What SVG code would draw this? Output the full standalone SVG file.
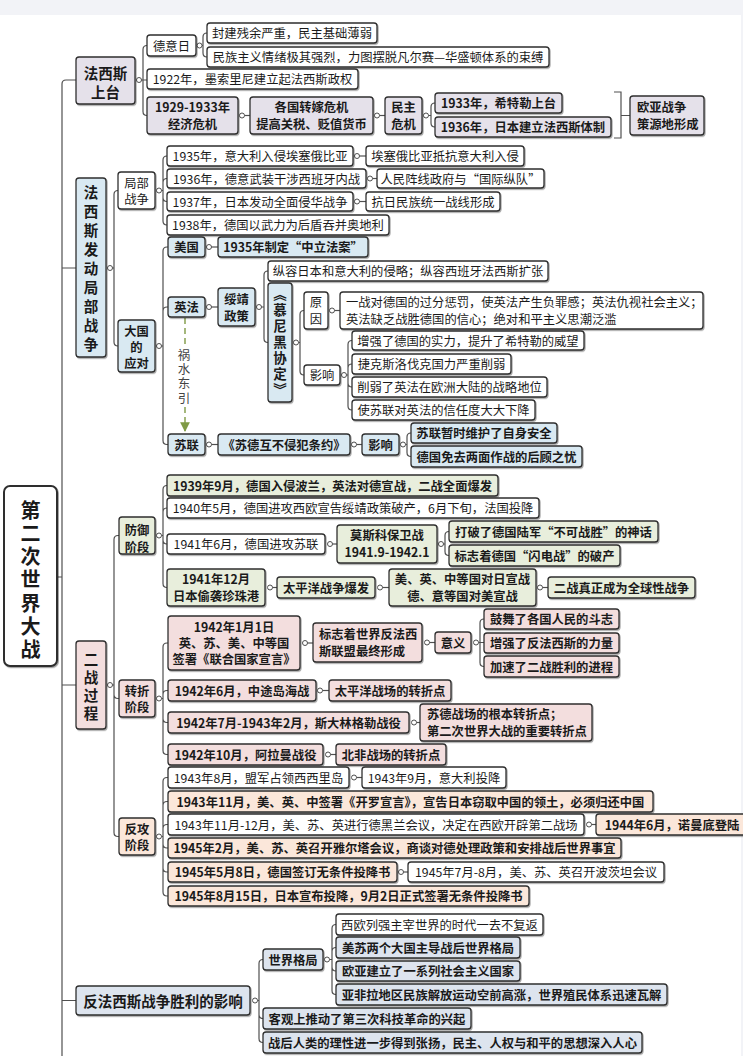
<svg xmlns="http://www.w3.org/2000/svg" width="743" height="1056" viewBox="0 0 743 1056">
<defs>
<filter id="sh" x="-5%" y="-10%" width="115%" height="140%"><feDropShadow dx="1" dy="1.2" stdDeviation="0.7" flood-color="#000" flood-opacity="0.35"/></filter>
<marker id="ah" viewBox="0 0 10 10" refX="9" refY="5" markerWidth="7" markerHeight="7" orient="auto"><path d="M0,0 L10,5 L0,10 z" fill="#7f9a45"/></marker>
<style>
rect.n{stroke:#2e2e2e;stroke-width:1.3;filter:url(#sh)}
.w{fill:#ffffff}.lav{fill:#e5e1ea}.blu{fill:#d9e9f2}.grn{fill:#e8eedc}.pnk{fill:#f3dede}.pch{fill:#fbe7da}.gry{fill:#dde4ee}
text{font-family:"Noto Sans CJK SC","Noto Sans",sans-serif;font-size:12.3px;fill:#1a1a1a;dominant-baseline:central;text-anchor:middle}
.b{font-weight:bold}
.l{text-anchor:start}
.h{font-size:14.5px;font-weight:bold}
.v{writing-mode:vertical-rl}
.c path{fill:none;stroke:#505050;stroke-width:1.2}
.c circle{fill:#fff;stroke:#505050;stroke-width:1}
</style>
</defs>
<rect x="0" y="0" width="743" height="15" fill="#f2f3f7"/>
<rect x="741" y="15" width="2" height="1041" fill="#f2f3f7"/>

<g class="c" id="connectors">
<path d="M57 577 H62 M62 1056 V84 Q62 80 66 80 H76 M62 268 H76 M62 685 H76 M62 1000.5 H76"/>
<circle cx="139" cy="80" r="2.5"/>
<path d="M141.5 80 H143 M143 80 V49.5 Q143 45.5 147 45.5 M143 80 H147 M143 80 V111.5 Q143 115.5 147 115.5"/>
<circle cx="199.5" cy="45.5" r="2.5"/>
<path d="M202 45.5 H203 M203 45.5 V37 Q203 33 207 33 M203 45.5 V53 Q203 57 207 57"/>
<circle cx="242" cy="115.5" r="2.5"/><path d="M244.5 115.5 H250"/>
<circle cx="377" cy="115.5" r="2.5"/><path d="M379.5 115.5 H385"/>
<circle cx="426" cy="115.5" r="2.5"/>
<path d="M428.5 115.5 H431 M431 115.5 V107 Q431 103 435 103 M431 115.5 V123 Q431 127 435 127"/>
<path d="M614 92 H621 V138 H614 M621 115.5 H630"/>
<circle cx="110" cy="268" r="2.5"/>
<path d="M112.5 268 H114 M114 268 V194.5 Q114 190.5 118 190.5 M114 268 V342 Q114 346 118 346"/>
<circle cx="159" cy="190.5" r="2.5"/>
<path d="M161.5 190.5 H163 M163 190.5 V160 Q163 156 167 156 M163 190.5 V182.5 Q163 178.5 167 178.5 M163 190.5 V197.5 Q163 201.5 167 201.5 M163 190.5 V221 Q163 225 167 225"/>
<circle cx="357" cy="156" r="2.5"/><path d="M359.5 156 H366"/>
<circle cx="370" cy="178.5" r="2.5"/><path d="M372.5 178.5 H377"/>
<circle cx="357" cy="201.5" r="2.5"/><path d="M359.5 201.5 H366"/>
<circle cx="159" cy="346" r="2.5"/>
<path d="M161.5 346 H163 M163 346 V251 Q163 247 167 247 H168 M163 346 V311 Q163 307 167 307 H168 M163 346 V440.5 Q163 444.5 167 444.5 H168"/>
<circle cx="209" cy="247" r="2.5"/><path d="M211.5 247 H218"/>
<circle cx="209" cy="307" r="2.5"/><path d="M211.5 307 H218"/>
<circle cx="259" cy="307" r="2.5"/>
<path d="M261.5 307 H264 M264 307 V275 Q264 271 268 271 M264 307 V338.5 Q264 342.5 268 342.5"/>
<circle cx="296" cy="342.5" r="2.5"/>
<path d="M298.5 342.5 H300 M300 342.5 V314.5 Q300 310.5 304 310.5 M300 342.5 V371 Q300 375 304 375"/>
<circle cx="332" cy="310.5" r="2.5"/><path d="M334.5 310.5 H340"/>
<circle cx="344" cy="375" r="2.5"/>
<path d="M346.5 375 H348 M348 375 V344.5 Q348 340.5 352 340.5 M348 375 V368 Q348 364 352 364 M348 375 V383 Q348 387 352 387 M348 375 V406 Q348 410 352 410"/>
<circle cx="209" cy="444.5" r="2.5"/><path d="M211.5 444.5 H218"/>
<circle cx="354" cy="444.5" r="2.5"/><path d="M356.5 444.5 H362"/>
<circle cx="403" cy="444.5" r="2.5"/>
<path d="M405.5 444.5 H407 M407 444.5 V437 Q407 433 411 433 M407 444.5 V452.5 Q407 456.5 411 456.5"/>
<path d="M185 318 V347 M185 407 V431" style="stroke:#7f9a45;stroke-width:1.4;stroke-dasharray:6 4" marker-end="url(#ah)"/>
<circle cx="110" cy="685" r="2.5"/>
<path d="M112.5 685 H114 M114 685 V539.5 Q114 535.5 118 535.5 H119 M114 685 V694.5 Q114 698.5 118 698.5 H119 M114 685 V832.5 Q114 836.5 118 836.5 H119"/>
<circle cx="159" cy="535.5" r="2.5"/>
<path d="M161.5 535.5 H163 M163 535.5 V489.5 Q163 485.5 167 485.5 M163 535.5 V512 Q163 508 167 508 M163 535.5 V540 Q163 544 167 544 M163 535.5 V583.5 Q163 587.5 167 587.5"/>
<circle cx="330" cy="544" r="2.5"/><path d="M332.5 544 H337"/>
<circle cx="441" cy="544" r="2.5"/>
<path d="M443.5 544 H445 M445 544 V535.5 Q445 531.5 449 531.5 M445 544 V551.5 Q445 555.5 449 555.5"/>
<circle cx="270" cy="587.5" r="2.5"/><path d="M272.5 587.5 H277"/>
<circle cx="380" cy="587.5" r="2.5"/><path d="M382.5 587.5 H389"/>
<circle cx="540" cy="587.5" r="2.5"/><path d="M542.5 587.5 H548"/>
<circle cx="159" cy="698.5" r="2.5"/>
<path d="M161.5 698.5 H163 M163 698.5 V647 Q163 643 167 643 H168 M163 698.5 V694.5 Q163 690.5 167 690.5 H168 M163 698.5 V718.5 Q163 722.5 167 722.5 H168 M163 698.5 V750.5 Q163 754.5 167 754.5 H168"/>
<circle cx="305" cy="643" r="2.5"/><path d="M307.5 643 H313"/>
<circle cx="427" cy="642.5" r="2.5"/><path d="M429.5 642.5 H435"/>
<circle cx="476" cy="642.5" r="2.5"/>
<path d="M478.5 642.5 H480 M480 642.5 V623 Q480 619 484 619 M480 642.5 H484 M480 642.5 V662.5 Q480 666.5 484 666.5"/>
<circle cx="320" cy="690.5" r="2.5"/><path d="M322.5 690.5 H329"/>
<circle cx="414" cy="722.5" r="2.5"/><path d="M416.5 722.5 H420"/>
<circle cx="328" cy="754.5" r="2.5"/><path d="M330.5 754.5 H336"/>
<circle cx="159" cy="836.5" r="2.5"/>
<path d="M161.5 836.5 H163 M163 836.5 V781.5 Q163 777.5 167 777.5 H168 M163 836.5 V805.5 Q163 801.5 167 801.5 H168 M163 836.5 V828.5 Q163 824.5 167 824.5 H168 M163 836.5 V844 Q163 848 167 848 H168 M163 836.5 V868 Q163 872 167 872 H168 M163 836.5 V892 Q163 896 167 896 H168"/>
<circle cx="354" cy="777.5" r="2.5"/><path d="M356.5 777.5 H362"/>
<circle cx="589" cy="824.5" r="2.5"/><path d="M591.5 824.5 H596"/>
<circle cx="401" cy="872" r="2.5"/><path d="M403.5 872 H408"/>
<circle cx="255" cy="1000.5" r="2.5"/>
<path d="M257.5 1000.5 H259 M259 1000.5 V963.5 Q259 959.5 263 959.5 M259 1000.5 V1014.5 Q259 1018.5 263 1018.5 M259 1000.5 V1038.5 Q259 1042.5 263 1042.5"/>
<circle cx="327" cy="959.5" r="2.5"/>
<path d="M329.5 959.5 H332 M332 959.5 V928.5 Q332 924.5 336 924.5 M332 959.5 V951.5 Q332 947.5 336 947.5 M332 959.5 V967 Q332 971 336 971 M332 959.5 V990.5 Q332 994.5 336 994.5"/>
</g>

<g id="n-root"><rect class="n w" x="4" y="486" width="53" height="180" rx="6" style="stroke-width:2"/>
<text class="v" x="30.5" y="581.5" style="font-size:20px;font-weight:bold;letter-spacing:3.3px">第二次世界大战</text></g>

<g id="n-fascism-rise"><rect class="n lav" x="76" y="57" width="59" height="47" rx="3"/><text class="h"><tspan x="105.5" y="72">法西斯</tspan><tspan x="105.5" y="91">上台</tspan></text></g>
<g id="n-gij"><rect class="n w" x="147" y="35" width="49" height="21" rx="3"/><text x="171.5" y="45.5">德意日</text></g>
<g id="n-feudal"><rect class="n w" x="207" y="23" width="170" height="20" rx="3"/><text x="292" y="33">封建残余严重，民主基础薄弱</text></g>
<g id="n-nationalism"><rect class="n w" x="207" y="47" width="342" height="20" rx="3"/><text x="378" y="57">民族主义情绪极其强烈，力图摆脱凡尔赛—华盛顿体系的束缚</text></g>
<g id="n-1922"><rect class="n w" x="147" y="69" width="211" height="20" rx="3"/><text x="252.5" y="79">1922年，墨索里尼建立起法西斯政权</text></g>
<g id="n-crisis"><rect class="n lav" x="147" y="97" width="91" height="37" rx="3"/><text class="b"><tspan x="192.5" y="107">1929-1933年</tspan><tspan x="192.5" y="124">经济危机</tspan></text></g>
<g id="n-transfer"><rect class="n lav" x="250" y="97" width="123" height="37" rx="3"/><text class="b"><tspan x="311.5" y="107">各国转嫁危机</tspan><tspan x="311.5" y="124">提高关税、贬值货币</tspan></text></g>
<g id="n-democracy"><rect class="n lav" x="385" y="97" width="37" height="37" rx="3"/><text class="b"><tspan x="403.5" y="107">民主</tspan><tspan x="403.5" y="124">危机</tspan></text></g>
<g id="n-1933"><rect class="n lav" x="435" y="93" width="127" height="20" rx="3"/><text class="b" x="498.5" y="103">1933年，希特勒上台</text></g>
<g id="n-1936j"><rect class="n lav" x="435" y="117" width="176" height="20" rx="3"/><text class="b" x="523" y="127">1936年，日本建立法西斯体制</text></g>
<g id="n-source"><rect class="n lav" x="630" y="96" width="74" height="39" rx="3"/><text class="b l"><tspan x="637" y="107">欧亚战争</tspan><tspan x="637" y="124">策源地形成</tspan></text></g>

<g id="n-local-war"><rect class="n blu" x="76" y="178" width="30" height="179" rx="3"/><text class="h v" x="91" y="270.7" style="letter-spacing:4.4px">法西斯发动局部战争</text></g>
<g id="n-partial"><rect class="n w" x="118" y="172" width="37" height="37" rx="3"/><text><tspan x="136.5" y="183">局部</tspan><tspan x="136.5" y="199">战争</tspan></text></g>
<g id="n-1935"><rect class="n w" x="167" y="146" width="186" height="20" rx="3"/><text x="260" y="156">1935年，意大利入侵埃塞俄比亚</text></g>
<g id="n-ethiopia"><rect class="n w" x="366" y="146" width="158" height="20" rx="3"/><text x="445" y="156">埃塞俄比亚抵抗意大利入侵</text></g>
<g id="n-1936"><rect class="n w" x="167" y="169" width="199" height="19" rx="3"/><text x="266.5" y="178.5">1936年，德意武装干涉西班牙内战</text></g>
<g id="n-brigade"><rect class="n w" x="377" y="169" width="167" height="19" rx="3"/><text x="460.5" y="178.5">人民阵线政府与“国际纵队”</text></g>
<g id="n-1937"><rect class="n w" x="167" y="192" width="186" height="19" rx="3"/><text x="260" y="201.5">1937年，日本发动全面侵华战争</text></g>
<g id="n-front"><rect class="n w" x="366" y="192" width="134" height="19" rx="3"/><text x="433" y="201.5">抗日民族统一战线形成</text></g>
<g id="n-1938"><rect class="n w" x="167" y="215" width="222" height="20" rx="3"/><text x="278" y="225">1938年，德国以武力为后盾吞并奥地利</text></g>
<g id="n-powers"><rect class="n blu" x="118" y="320" width="37" height="52" rx="3"/><text class="b"><tspan x="136.5" y="331">大国</tspan><tspan x="136.5" y="347">的</tspan><tspan x="136.5" y="363">应对</tspan></text></g>
<g id="n-usa"><rect class="n blu" x="168" y="237" width="37" height="20" rx="3"/><text class="b" x="186.5" y="247">美国</text></g>
<g id="n-neutral"><rect class="n blu" x="218" y="237" width="150" height="20" rx="3"/><text class="b" x="293" y="247">1935年制定“中立法案”</text></g>
<g id="n-ukfr"><rect class="n blu" x="168" y="297" width="37" height="20" rx="3"/><text class="b" x="186.5" y="307">英法</text></g>
<g id="n-appease"><rect class="n blu" x="218" y="288" width="37" height="38" rx="3"/><text class="b"><tspan x="236.5" y="299">绥靖</tspan><tspan x="236.5" y="316">政策</tspan></text></g>
<g id="n-indulge"><rect class="n w" x="268" y="261" width="280" height="20" rx="3"/><text x="408" y="271">纵容日本和意大利的侵略；纵容西班牙法西斯扩张</text></g>
<g id="n-munich"><rect class="n blu" x="268" y="283" width="24" height="119" rx="3"/><text class="b v" x="280" y="343" style="font-size:13.5px;letter-spacing:2.5px">《慕尼黑协定》</text></g>
<g id="n-reason"><rect class="n w" x="304" y="292" width="24" height="37" rx="3"/><text><tspan x="316" y="302">原</tspan><tspan x="316" y="319">因</tspan></text></g>
<g id="n-reason-text"><rect class="n w" x="340" y="292" width="363" height="37" rx="3"/><text class="l"><tspan x="346" y="302">一战对德国的过分惩罚，使英法产生负罪感；英法仇视社会主义；</tspan><tspan x="346" y="319">英法缺乏战胜德国的信心；绝对和平主义思潮泛滥</tspan></text></g>
<g id="n-effect1"><rect class="n w" x="304" y="365" width="36" height="20" rx="3"/><text x="322" y="375">影响</text></g>
<g id="n-e1"><rect class="n w" x="352" y="331" width="232" height="19" rx="3"/><text x="468" y="340.5">增强了德国的实力，提升了希特勒的威望</text></g>
<g id="n-e2"><rect class="n w" x="352" y="354" width="159" height="20" rx="3"/><text x="431.5" y="364">捷克斯洛伐克国力严重削弱</text></g>
<g id="n-e3"><rect class="n w" x="352" y="377" width="195" height="20" rx="3"/><text x="449.5" y="387">削弱了英法在欧洲大陆的战略地位</text></g>
<g id="n-e4"><rect class="n w" x="352" y="400" width="183" height="20" rx="3"/><text x="443.5" y="410">使苏联对英法的信任度大大下降</text></g>
<g id="n-eastward"><text class="v" x="184" y="377.4" style="fill:#444;font-size:12.5px;letter-spacing:1.8px">祸水东引</text></g>
<g id="n-ussr"><rect class="n blu" x="168" y="434" width="37" height="21" rx="3"/><text class="b" x="186.5" y="444.5">苏联</text></g>
<g id="n-pact"><rect class="n blu" x="218" y="434" width="132" height="21" rx="3"/><text class="b" x="284" y="444.5">《苏德互不侵犯条约》</text></g>
<g id="n-effect2"><rect class="n blu" x="362" y="434" width="37" height="21" rx="3"/><text class="b" x="380.5" y="444.5">影响</text></g>
<g id="n-safe"><rect class="n blu" x="411" y="423" width="146" height="20" rx="3"/><text class="b" x="484" y="433">苏联暂时维护了自身安全</text></g>
<g id="n-twofront"><rect class="n blu" x="411" y="446" width="171" height="21" rx="3"/><text class="b" x="496.5" y="456.5">德国免去两面作战的后顾之忧</text></g>

<g id="n-process"><rect class="n pnk" x="76" y="641" width="30" height="88" rx="3"/><text class="h v" x="91" y="688.7" style="letter-spacing:3.5px">二战过程</text></g>
<g id="n-defense"><rect class="n grn" x="119" y="517" width="36" height="37" rx="3"/><text class="b"><tspan x="137" y="530">防御</tspan><tspan x="137" y="547">阶段</tspan></text></g>
<g id="n-1939"><rect class="n grn" x="167" y="475" width="331" height="21" rx="3"/><text class="b" x="332.5" y="485.5">1939年9月，德国入侵波兰，英法对德宣战，二战全面爆发</text></g>
<g id="n-1940"><rect class="n w" x="167" y="498" width="372" height="20" rx="3"/><text x="353" y="508">1940年5月，德国进攻西欧宣告绥靖政策破产，6月下旬，法国投降</text></g>
<g id="n-1941-6"><rect class="n w" x="167" y="534" width="158" height="20" rx="3"/><text x="246" y="544">1941年6月，德国进攻苏联</text></g>
<g id="n-moscow"><rect class="n grn" x="337" y="525" width="100" height="38" rx="3"/><text class="b"><tspan x="387" y="535">莫斯科保卫战</tspan><tspan x="387" y="552">1941.9-1942.1</tspan></text></g>
<g id="n-myth"><rect class="n grn" x="449" y="521" width="209" height="21" rx="3"/><text class="b" x="553.5" y="531.5">打破了德国陆军“不可战胜”的神话</text></g>
<g id="n-blitz"><rect class="n grn" x="449" y="545" width="171" height="21" rx="3"/><text class="b" x="534.5" y="555.5">标志着德国“闪电战”的破产</text></g>
<g id="n-pearl"><rect class="n grn" x="167" y="569" width="98" height="37" rx="3"/><text class="b"><tspan x="216" y="579">1941年12月</tspan><tspan x="216" y="596">日本偷袭珍珠港</tspan></text></g>
<g id="n-pacific"><rect class="n grn" x="277" y="577" width="98" height="21" rx="3"/><text class="b" x="326" y="587.5">太平洋战争爆发</text></g>
<g id="n-declare"><rect class="n grn" x="389" y="569" width="147" height="37" rx="3"/><text class="b"><tspan x="462.5" y="579">美、英、中等国对日宣战</tspan><tspan x="462.5" y="596">德、意等国对美宣战</tspan></text></g>
<g id="n-global"><rect class="n grn" x="548" y="577" width="147" height="21" rx="3"/><text class="b" x="621.5" y="587.5">二战真正成为全球性战争</text></g>

<g id="n-turning"><rect class="n pnk" x="119" y="680" width="36" height="37" rx="3"/><text class="b"><tspan x="137" y="691">转折</tspan><tspan x="137" y="707">阶段</tspan></text></g>
<g id="n-un"><rect class="n pnk" x="168" y="616" width="132" height="54" rx="3"/><text class="b"><tspan x="234" y="627">1942年1月1日</tspan><tspan x="234" y="643">英、苏、美、中等国</tspan><tspan x="234" y="659">签署《联合国家宣言》</tspan></text></g>
<g id="n-alliance"><rect class="n pnk" x="313" y="623" width="109" height="39" rx="3"/><text class="b l"><tspan x="319" y="634">标志着世界反法西</tspan><tspan x="319" y="651">斯联盟最终形成</tspan></text></g>
<g id="n-meaning"><rect class="n pnk" x="435" y="632" width="36" height="21" rx="3"/><text class="b" x="453" y="642.5">意义</text></g>
<g id="n-m1"><rect class="n pnk" x="484" y="609" width="135" height="20" rx="3"/><text class="b" x="551.5" y="619">鼓舞了各国人民的斗志</text></g>
<g id="n-m2"><rect class="n pnk" x="484" y="633" width="135" height="20" rx="3"/><text class="b" x="551.5" y="643">增强了反法西斯的力量</text></g>
<g id="n-m3"><rect class="n pnk" x="484" y="656" width="135" height="21" rx="3"/><text class="b" x="551.5" y="666.5">加速了二战胜利的进程</text></g>
<g id="n-midway"><rect class="n pnk" x="168" y="680" width="148" height="21" rx="3"/><text class="b" x="242" y="690.5">1942年6月，中途岛海战</text></g>
<g id="n-midway-t"><rect class="n pnk" x="329" y="680" width="122" height="21" rx="3"/><text class="b" x="390" y="690.5">太平洋战场的转折点</text></g>
<g id="n-stalingrad"><rect class="n pnk" x="168" y="712" width="241" height="21" rx="3"/><text class="b" x="288.5" y="722.5">1942年7月-1943年2月，斯大林格勒战役</text></g>
<g id="n-stalingrad-t"><rect class="n pnk" x="420" y="704" width="172" height="37" rx="3"/><text class="b l"><tspan x="427" y="714">苏德战场的根本转折点；</tspan><tspan x="427" y="731">第二次世界大战的重要转折点</tspan></text></g>
<g id="n-alamein"><rect class="n pnk" x="168" y="744" width="155" height="21" rx="3"/><text class="b" x="245.5" y="754.5">1942年10月，阿拉曼战役</text></g>
<g id="n-alamein-t"><rect class="n pnk" x="336" y="744" width="110" height="21" rx="3"/><text class="b" x="391" y="754.5">北非战场的转折点</text></g>

<g id="n-counter"><rect class="n pch" x="119" y="818" width="36" height="37" rx="3"/><text class="b"><tspan x="137" y="829">反攻</tspan><tspan x="137" y="845">阶段</tspan></text></g>
<g id="n-sicily"><rect class="n w" x="168" y="767" width="181" height="21" rx="3"/><text x="258.5" y="777.5">1943年8月，盟军占领西西里岛</text></g>
<g id="n-italy"><rect class="n w" x="362" y="767" width="144" height="21" rx="3"/><text x="434" y="777.5">1943年9月，意大利投降</text></g>
<g id="n-cairo"><rect class="n pch" x="168" y="791" width="485" height="21" rx="3"/><text class="b" x="410.5" y="801.5">1943年11月，美、英、中签署《开罗宣言》，宣告日本窃取中国的领土，必须归还中国</text></g>
<g id="n-tehran"><rect class="n w" x="168" y="814" width="416" height="21" rx="3"/><text x="376" y="824.5">1943年11月-12月，美、苏、英进行德黑兰会议，决定在西欧开辟第二战场</text></g>
<g id="n-normandy"><rect class="n pch" x="596" y="814" width="152" height="21" rx="3"/><text class="b" x="672" y="824.5">1944年6月，诺曼底登陆</text></g>
<g id="n-yalta"><rect class="n pch" x="168" y="838" width="453" height="20" rx="3"/><text class="b" x="394.5" y="848">1945年2月，美、苏、英召开雅尔塔会议，商谈对德处理政策和安排战后世界事宜</text></g>
<g id="n-germany"><rect class="n pch" x="168" y="862" width="229" height="20" rx="3"/><text class="b" x="282.5" y="872">1945年5月8日，德国签订无条件投降书</text></g>
<g id="n-potsdam"><rect class="n w" x="408" y="862" width="256" height="20" rx="3"/><text x="536" y="872">1945年7月-8月，美、苏、英召开波茨坦会议</text></g>
<g id="n-japan"><rect class="n pch" x="168" y="886" width="361" height="20" rx="3"/><text class="b" x="348.5" y="896">1945年8月15日，日本宣布投降，9月2日正式签署无条件投降书</text></g>

<g id="n-impact"><rect class="n gry" x="76" y="986" width="174" height="29" rx="3"/><text class="h" x="163" y="1000.5">反法西斯战争胜利的影响</text></g>
<g id="n-pattern"><rect class="n gry" x="263" y="949" width="60" height="21" rx="3"/><text class="b" x="293" y="959.5">世界格局</text></g>
<g id="n-p1"><rect class="n w" x="336" y="914" width="207" height="21" rx="3"/><text x="439.5" y="924.5">西欧列强主宰世界的时代一去不复返</text></g>
<g id="n-p2"><rect class="n gry" x="336" y="937" width="184" height="21" rx="3"/><text class="b" x="428" y="947.5">美苏两个大国主导战后世界格局</text></g>
<g id="n-p3"><rect class="n gry" x="336" y="961" width="184" height="20" rx="3"/><text class="b" x="428" y="971">欧亚建立了一系列社会主义国家</text></g>
<g id="n-p4"><rect class="n gry" x="336" y="984" width="331" height="21" rx="3"/><text class="b" x="501.5" y="994.5">亚非拉地区民族解放运动空前高涨，世界殖民体系迅速瓦解</text></g>
<g id="n-tech"><rect class="n gry" x="263" y="1008" width="208" height="21" rx="3"/><text class="b" x="367" y="1018.5">客观上推动了第三次科技革命的兴起</text></g>
<g id="n-reason2"><rect class="n gry" x="263" y="1032" width="379" height="21" rx="3"/><text class="b" x="452.5" y="1042.5">战后人类的理性进一步得到张扬，民主、人权与和平的思想深入人心</text></g>
</svg>
